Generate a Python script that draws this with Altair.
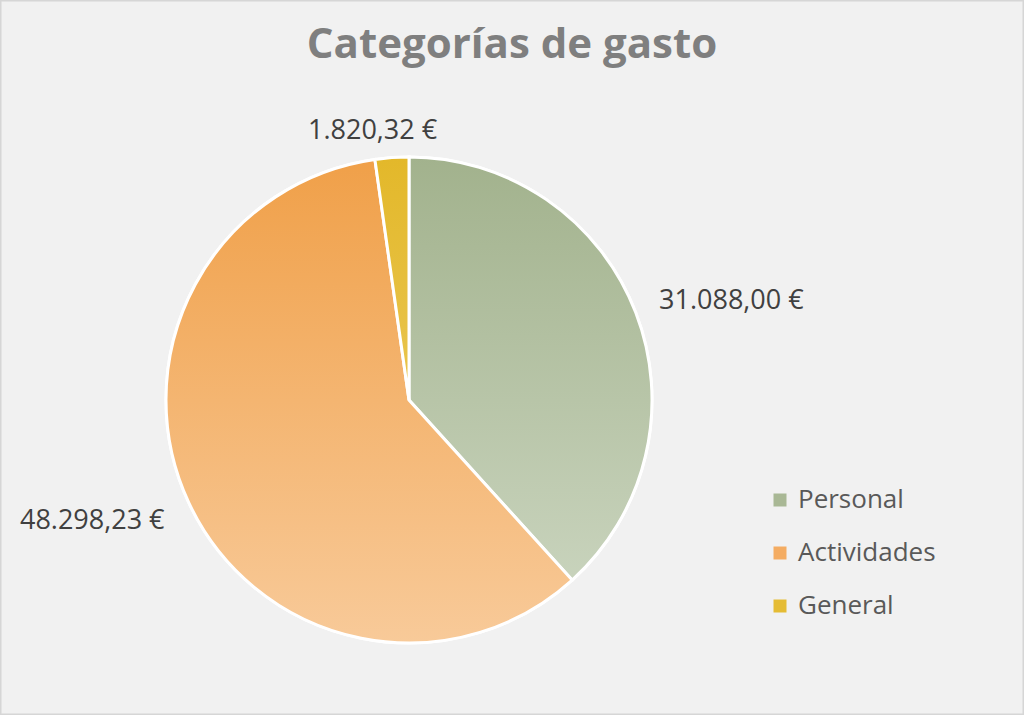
import altair as alt
import pandas as pd

categories = ["Personal", "Actividades", "General"]
values = [31088.00, 48298.23, 1820.32]
labels = ["31.088,00 €", "48.298,23 €", "1.820,32 €"]
legend_colors = ["#A9B895", "#F4AC62", "#E5BC34"]
grad_top = ["#A2B28D", "#F0A049", "#E3B82A"]
grad_bottom = ["#C8D3BC", "#F8CA99", "#E9C54E"]

df = pd.DataFrame({
    "category": categories,
    "value": values,
    "label": labels,
    "idx": list(range(len(categories))),
})

CX, CY, R = 409, 400, 243
FONT = "Open Sans"

base = (
    alt.Chart(df)
    .transform_joinaggregate(total="sum(value)")
    .transform_window(cum="sum(value)", sort=[alt.SortField("idx")], frame=[None, 0])
    .transform_calculate(
        start="(datum.cum - datum.value) / datum.total",
        end="datum.cum / datum.total",
        mid="(datum.cum - datum.value / 2) / datum.total",
    )
)

theta_enc = alt.Theta("start:Q", scale=alt.Scale(domain=[0, 1]))

pie_base = base.mark_arc(outerRadius=R, stroke="white", strokeWidth=3).encode(
    theta=theta_enc,
    theta2="end:Q",
    x=alt.value(CX),
    y=alt.value(CY),
    color=alt.Color(
        "category:N",
        scale=alt.Scale(domain=categories, range=legend_colors),
        legend=alt.Legend(
            title=None,
            orient="none",
            legendX=767,
            legendY=487,
            symbolType="square",
            symbolSize=169,
            symbolStrokeWidth=0,
            labelFontSize=26,
            labelFont=FONT,
            labelColor="#595959",
            labelOffset=5,
            rowPadding=27,
            padding=0,
        ),
    ),
)

layers = [pie_base]
for cat, top, bot in zip(categories, grad_top, grad_bottom):
    layers.append(
        base.transform_filter(alt.datum.category == cat)
        .mark_arc(
            outerRadius=R,
            stroke="white",
            strokeWidth=3,
            fill=alt.LinearGradient(
                gradient="linear",
                stops=[
                    alt.GradientStop(color=top, offset=0),
                    alt.GradientStop(color=bot, offset=1),
                ],
                x1=0, x2=0, y1=0, y2=1,
            ),
        )
        .encode(theta=theta_enc, theta2="end:Q", x=alt.value(CX), y=alt.value(CY))
    )

label_specs = {
    "Personal": dict(radius=268, align="left", baseline="middle", dy=-3),
    "Actividades": dict(radius=270, align="right", baseline="middle", dy=6),
    "General": dict(radius=262, align="center", baseline="alphabetic", dx=-18),
}
for cat, spec in label_specs.items():
    layers.append(
        base.transform_filter(alt.datum.category == cat)
        .mark_text(font=FONT, fontSize=27, color="#404040", **spec)
        .encode(theta=alt.Theta("mid:Q", scale=alt.Scale(domain=[0, 1])), text="label:N",
                x=alt.value(CX), y=alt.value(CY))
    )

chart = (
    alt.layer(*layers)
    .properties(
        width=1024,
        height=715,
        padding=0,
        autosize=alt.AutoSizeParams(type="none"),
        background="#F1F1F1",
        title=alt.TitleParams(
            "Categorías de gasto",
            font=FONT,
            fontSize=42,
            fontWeight="bold",
            color="#7F7F7F",
            anchor="middle",
            baseline="alphabetic",
            offset=-100,
        ),
    )
    .configure_view(stroke="#D6D6D6", strokeWidth=3)
)

chart.save("out.html", embed_options={"renderer": "svg", "actions": False})
